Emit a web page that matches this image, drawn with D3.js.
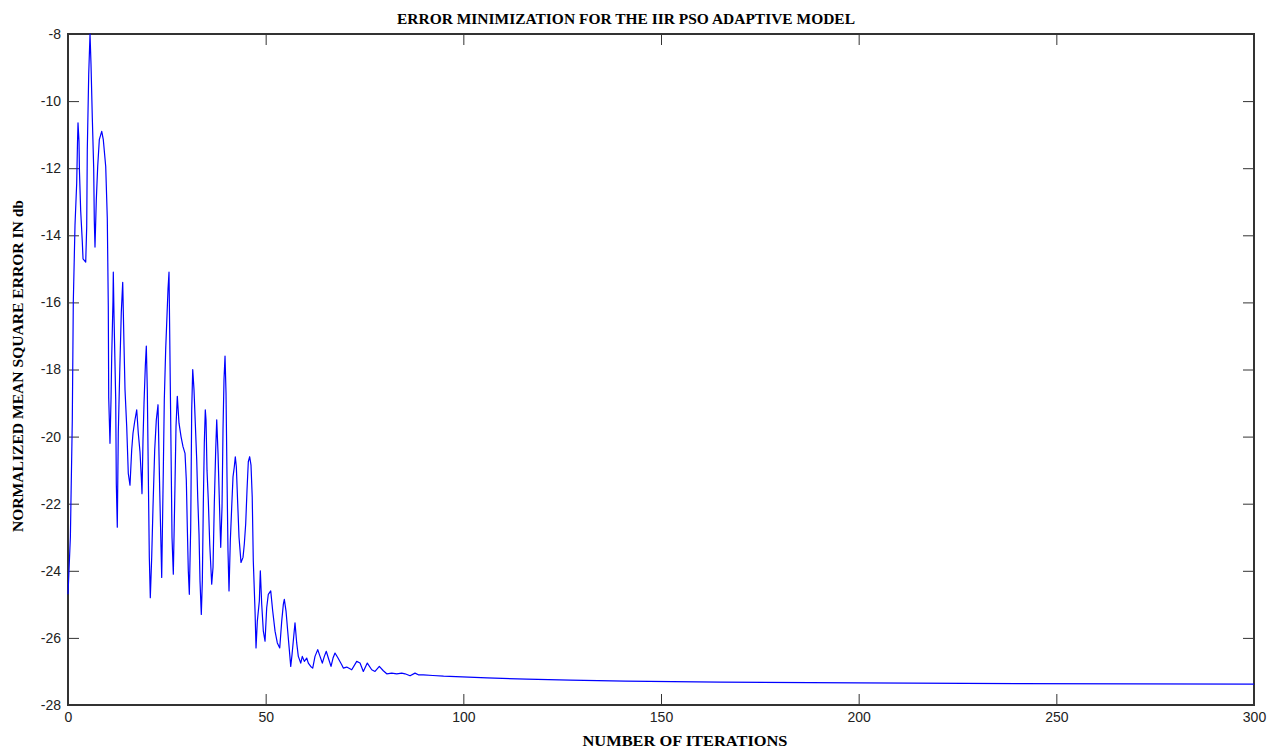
<!DOCTYPE html>
<html>
<head>
<meta charset="utf-8">
<script src="https://cdn.jsdelivr.net/npm/d3@7"></script>
<style>
  html, body { margin: 0; padding: 0; background: #fff; }
  svg { display: block; }
</style>
</head>
<body>
<svg id="chart" width="1277" height="748"></svg>
<script>
// ---- data ----
const iterations = [
  0, 0.6, 1.09, 1.34, 1.77, 2.2, 2.4, 2.53, 2.78, 2.9, 3.2, 3.62, 3.8, 4.48, 4.73, 4.88, 5.24, 5.57, 5.82, 6.15,
  6.5, 6.65, 6.83, 7.16, 7.51, 7.92, 8.53, 8.93, 9.54, 9.94, 10.19, 10.3, 10.62, 10.88, 11.05, 11.38, 11.46, 11.64, 12.07, 12.22,
  12.47, 12.72, 13.08, 13.48, 13.84, 14.17, 14.42, 14.85, 15.25, 15.68, 16.11, 16.44, 16.87, 17.38, 17.78, 18.21, 18.54, 18.72, 18.97, 19.23,
  19.56, 19.81, 20.06, 20.31, 20.57, 20.82, 21.17, 21.5, 21.93, 22.34, 22.77, 23.2, 23.53, 23.7, 24.11, 24.36, 24.71, 25.04, 25.3, 25.55,
  25.88, 26.31, 26.64, 27.07, 27.32, 27.65, 28.08, 28.59, 29.09, 29.6, 29.93, 30.18, 30.43, 30.69, 31.04, 31.29, 31.55, 31.87, 32.2, 32.56,
  32.81, 33.14, 33.39, 33.72, 33.98, 34.23, 34.48, 34.73, 34.91, 35.16, 35.49, 35.85, 36.35, 36.68, 37.01, 37.36, 37.62, 37.95, 38.38, 38.63,
  38.96, 39.21, 39.46, 39.72, 39.97, 40.22, 40.47, 40.73, 41.06, 41.41, 41.74, 42.07, 42.32, 42.58, 42.93, 43.26, 43.76, 44.27, 44.6, 44.95,
  45.28, 45.61, 45.96, 46.29, 46.6, 46.87, 47.31, 47.56, 47.89, 48.4, 48.65, 49.0, 49.41, 49.84, 50.26, 50.67, 51.28, 51.78, 52.37, 52.95,
  53.56, 54.06, 54.47, 54.72, 55.15, 55.58, 55.98, 56.34, 56.67, 57.1, 57.42, 57.85, 58.26, 58.87, 59.27, 59.78, 60.38, 60.79, 61.4, 61.9,
  62.48, 63.17, 63.75, 64.33, 64.84, 65.34, 65.85, 66.53, 67.04, 67.54, 68.3, 69.24, 69.64, 70.5, 71.77, 73.03, 73.87, 74.7, 75.71, 76.83,
  77.66, 78.75, 79.76, 80.62, 81.89, 83.15, 84.42, 85.25, 86.52, 87.78, 88.62, 89.88, 92.3, 95, 106, 116, 127, 141, 165, 200,
  240, 300
];
const mse = [
  -24.7, -23.0, -19.5, -16.0, -13.7, -12.45, -11.25, -10.65, -11.2, -12.1, -13.25, -14.2, -14.7, -14.8, -13.75, -11.45, -9.2, -8.0, -8.9, -10.5,
  -12.0, -13.55, -14.35, -12.95, -11.95, -11.15, -10.9, -11.15, -11.95, -13.5, -16.1, -18.85, -20.2, -18.9, -17.65, -15.95, -15.1, -16.4, -18.9, -21.4,
  -22.7, -19.9, -18.1, -16.3, -15.4, -17.3, -18.6, -19.7, -21.1, -21.45, -20.4, -19.9, -19.55, -19.2, -19.9, -20.45, -21.2, -21.7, -20.1, -19.0,
  -17.9, -17.3, -18.6, -21.1, -23.6, -24.8, -23.6, -22.1, -20.4, -19.5, -19.05, -21.6, -23.3, -24.2, -21.0, -18.9, -17.4, -16.4, -15.6, -15.1,
  -18.5, -23.0, -24.1, -21.4, -19.7, -18.8, -19.6, -20.0, -20.3, -20.5, -21.3, -22.7, -24.0, -24.7, -22.7, -19.2, -18.0, -18.6, -19.6, -20.7,
  -21.8, -22.9, -24.3, -25.3, -24.3, -22.0, -20.2, -19.2, -19.5, -21.0, -21.9, -23.2, -24.4, -23.9, -22.0, -20.4, -19.5, -20.5, -22.3, -23.3,
  -22.1, -19.8, -18.3, -17.6, -18.7, -21.2, -23.4, -24.6, -23.1, -22.1, -21.2, -20.9, -20.6, -20.9, -22.0, -23.0, -23.75, -23.6, -23.2, -22.6,
  -21.6, -20.75, -20.6, -20.85, -21.8, -23.7, -25.2, -26.3, -25.5, -24.9, -24.0, -25.0, -25.8, -26.1, -25.1, -24.7, -24.6, -25.2, -25.8, -26.15,
  -26.3, -25.5, -25.0, -24.85, -25.2, -25.8, -26.35, -26.85, -26.5, -25.95, -25.55, -26.15, -26.55, -26.75, -26.55, -26.7, -26.6, -26.75, -26.85, -26.9,
  -26.55, -26.35, -26.55, -26.75, -26.55, -26.4, -26.6, -26.85, -26.6, -26.45, -26.6, -26.8, -26.9, -26.87, -26.95, -26.7, -26.75, -27.0, -26.75, -26.95,
  -27.0, -26.85, -26.98, -27.07, -27.05, -27.07, -27.05, -27.07, -27.13, -27.05, -27.1, -27.1, -27.12, -27.14, -27.19, -27.23, -27.26, -27.29, -27.32, -27.34,
  -27.36, -27.38
];
const xTicks = [0, 50, 100, 150, 200, 250, 300];
const yTicks = [-28, -26, -24, -22, -20, -18, -16, -14, -12, -10, -8];
const titleText = "ERROR MINIMIZATION FOR THE IIR PSO ADAPTIVE MODEL";
const xLabelText = "NUMBER OF ITERATIONS";
const yLabelText = "NORMALIZED MEAN SQUARE ERROR IN db";

// ---- layout ----
const L = 68, R = 1254, T = 34, B = 705;
const svg = d3.select("#chart");
const x = d3.scaleLinear().domain([0, 300]).range([L, R]);
const y = d3.scaleLinear().domain([-28, -8]).range([B, T]);
const axisColor = "#333";
const tickLen = 11;

// axes with inward ticks
const gx = svg.append("g").attr("transform", `translate(0,${B})`)
  .call(d3.axisBottom(x).tickValues(xTicks).tickSize(-tickLen).tickPadding(6).tickFormat(d3.format("d")));
const gxTop = svg.append("g").attr("transform", `translate(0,${T})`)
  .call(d3.axisTop(x).tickValues(xTicks).tickSize(-tickLen).tickFormat(""));
const gy = svg.append("g").attr("transform", `translate(${L},0)`)
  .call(d3.axisLeft(y).tickValues(yTicks).tickSize(-tickLen).tickPadding(7).tickFormat(d => d));
const gyRight = svg.append("g").attr("transform", `translate(${R},0)`)
  .call(d3.axisRight(y).tickValues(yTicks).tickSize(-tickLen).tickFormat(""));

[gx, gxTop, gy, gyRight].forEach(g => {
  g.select(".domain").remove();
  g.selectAll(".tick line").attr("stroke", axisColor).attr("stroke-width", 1);
  g.selectAll("text").attr("font-family", "'Liberation Sans', Arial, sans-serif")
    .attr("font-size", 14).attr("fill", "#222");
});
gx.selectAll(".tick text").attr("dy", "0.75em");

// box
svg.append("rect").attr("x", L).attr("y", T).attr("width", R - L).attr("height", B - T)
  .attr("fill", "none").attr("stroke", axisColor).attr("stroke-width", 1.2)
  .attr("shape-rendering", "crispEdges");

// line
const pts = iterations.map((d, i) => [d, mse[i]]);
const line = d3.line().x(d => x(d[0])).y(d => y(d[1]));
svg.append("path").datum(pts).attr("d", line)
  .attr("fill", "none").attr("stroke", "#0000ff").attr("stroke-width", 1.2)
  .attr("stroke-linejoin", "round");

// redraw top/bottom lines over the line
// title & labels
const serif = "'Liberation Serif', 'Times New Roman', serif";
svg.append("text").attr("x", 626).attr("y", 24).attr("text-anchor", "middle")
  .attr("font-family", serif).attr("font-weight", "bold").attr("font-size", 15)
  .attr("textLength", 458).attr("lengthAdjust", "spacingAndGlyphs").attr("fill", "#000")
  .text(titleText);
svg.append("text").attr("x", 685).attr("y", 746).attr("text-anchor", "middle")
  .attr("font-family", serif).attr("font-weight", "bold").attr("font-size", 15)
  .attr("textLength", 205).attr("lengthAdjust", "spacingAndGlyphs").attr("fill", "#000")
  .text(xLabelText);
svg.append("text").attr("transform", "translate(23,366) rotate(-90)").attr("text-anchor", "middle")
  .attr("font-family", serif).attr("font-weight", "bold").attr("font-size", 15)
  .attr("textLength", 332).attr("lengthAdjust", "spacingAndGlyphs").attr("fill", "#000")
  .text(yLabelText);
</script>
</body>
</html>
